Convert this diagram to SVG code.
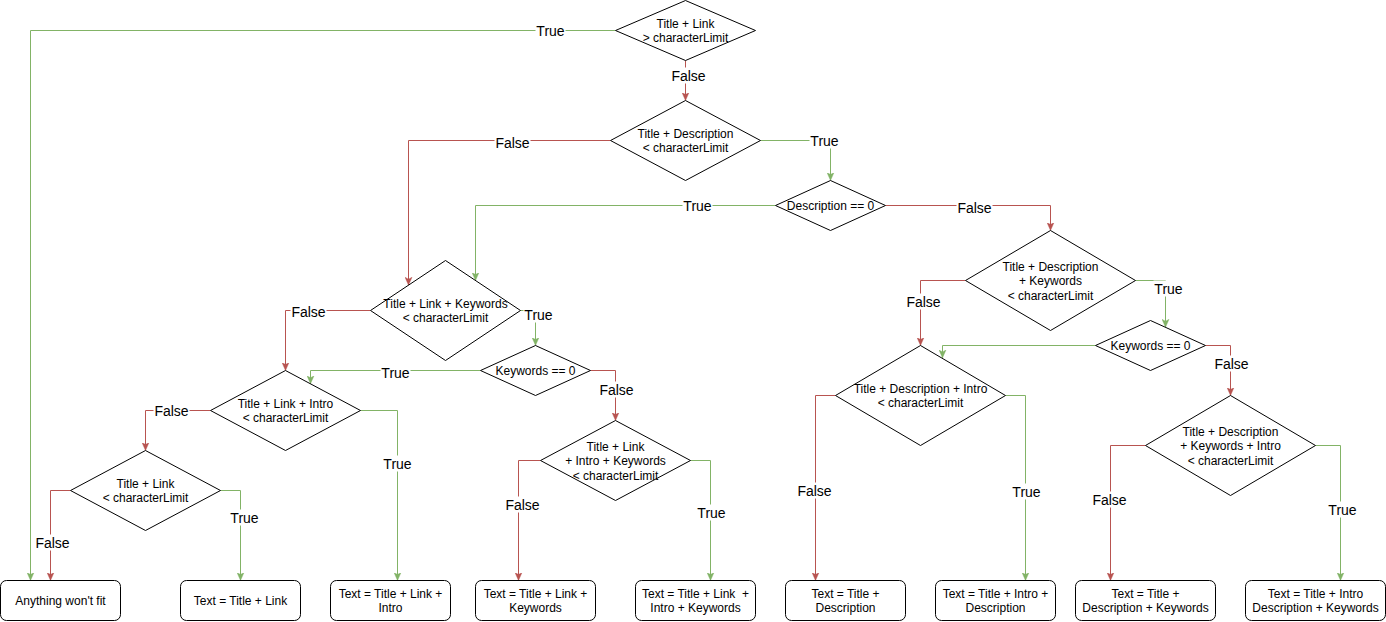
<svg xmlns="http://www.w3.org/2000/svg" width="1386" height="622" viewBox="0 0 1386 622">
  <style>
    .dia, .box { fill: #ffffff; stroke: #000000; stroke-width: 1; }
    .t { font-family: "Liberation Sans", Arial, Helvetica, sans-serif; font-size: 12px; fill: #000000; text-anchor: middle; }
    .edge { fill: none; stroke-width: 1; }
    .no { stroke: #b85450; marker-end: url(#arrowNo); }
    .yes { stroke: #82b366; marker-end: url(#arrowYes); }
    .lbl rect { fill: #ffffff; stroke: none; }
    .lbl text { font-family: "Liberation Sans", Arial, Helvetica, sans-serif; font-size: 14px; fill: #000000; text-anchor: middle; }
  </style>
  <defs>
    <marker id="arrowNo" viewBox="0 0 10 10" refX="10" refY="5" markerWidth="8" markerHeight="8" markerUnits="userSpaceOnUse" orient="auto">
      <path d="M0,0.6 L10,5 L0,9.4 L2.5,5 Z" fill="#b85450" stroke="#b85450" stroke-width="0.5"/>
    </marker>
    <marker id="arrowYes" viewBox="0 0 10 10" refX="10" refY="5" markerWidth="8" markerHeight="8" markerUnits="userSpaceOnUse" orient="auto">
      <path d="M0,0.6 L10,5 L0,9.4 L2.5,5 Z" fill="#82b366" stroke="#82b366" stroke-width="0.5"/>
    </marker>
  </defs>
  <rect x="0" y="0" width="1386" height="622" fill="#ffffff"/>
  <g transform="translate(0.5,0.5)">
    <!-- connectors -->
    <g id="connectors">
      <path class="edge yes" d="M615,30 H30 V580"/>
      <path class="edge no" d="M685,60 V100"/>
      <path class="edge no" d="M610,140 H408 V284.7"/>
      <path class="edge yes" d="M760,140 H830 V180"/>
      <path class="edge yes" d="M775,205 H475 V280"/>
      <path class="edge no" d="M885,205 H1050 V230"/>
      <path class="edge no" d="M370,310 H285 V370"/>
      <path class="edge yes" d="M520,310 H535 V345"/>
      <path class="edge yes" d="M480,370 H310 V383.3"/>
      <path class="edge no" d="M590,370 H615 V420"/>
      <path class="edge no" d="M210,410 H145 V450"/>
      <path class="edge yes" d="M360,410 H397 V580"/>
      <path class="edge no" d="M70,490 H50 V580"/>
      <path class="edge yes" d="M220,490 H240 V580"/>
      <path class="edge no" d="M540,460 H518 V580"/>
      <path class="edge yes" d="M690,460 H710 V580"/>
      <path class="edge no" d="M965,280 H920 V345"/>
      <path class="edge yes" d="M1135,280 H1165 V326.8"/>
      <path class="edge yes" d="M1095,345 H942 V357.4"/>
      <path class="edge no" d="M1205,345 H1230 V395"/>
      <path class="edge no" d="M835,395 H815 V580"/>
      <path class="edge yes" d="M1005,395 H1025 V580"/>
      <path class="edge no" d="M1145,445 H1110 V580"/>
      <path class="edge yes" d="M1315,445 H1340 V580"/>

      <!-- branch labels -->
      <g class="lbl"><rect x="535" y="22" width="30" height="16"/><text x="550" y="35">True</text></g>
      <g class="lbl"><rect x="670" y="67" width="36" height="16"/><text x="688" y="80">False</text></g>
      <g class="lbl"><rect x="494" y="134" width="36" height="16"/><text x="512" y="147">False</text></g>
      <g class="lbl"><rect x="809" y="132" width="30" height="16"/><text x="824" y="145">True</text></g>
      <g class="lbl"><rect x="682" y="197" width="30" height="16"/><text x="697" y="210">True</text></g>
      <g class="lbl"><rect x="956" y="199" width="36" height="16"/><text x="974" y="212">False</text></g>
      <g class="lbl"><rect x="290" y="303" width="36" height="16"/><text x="308" y="316">False</text></g>
      <g class="lbl"><rect x="523" y="306" width="30" height="16"/><text x="538" y="319">True</text></g>
      <g class="lbl"><rect x="380" y="364" width="30" height="16"/><text x="395" y="377">True</text></g>
      <g class="lbl"><rect x="598" y="381" width="36" height="16"/><text x="616" y="394">False</text></g>
      <g class="lbl"><rect x="153" y="402" width="36" height="16"/><text x="171" y="415">False</text></g>
      <g class="lbl"><rect x="382" y="455" width="30" height="16"/><text x="397" y="468">True</text></g>
      <g class="lbl"><rect x="34" y="534" width="36" height="16"/><text x="52" y="547">False</text></g>
      <g class="lbl"><rect x="229" y="509" width="30" height="16"/><text x="244" y="522">True</text></g>
      <g class="lbl"><rect x="504" y="496" width="36" height="16"/><text x="522" y="509">False</text></g>
      <g class="lbl"><rect x="696" y="504" width="30" height="16"/><text x="711" y="517">True</text></g>
      <g class="lbl"><rect x="905" y="293" width="36" height="16"/><text x="923" y="306">False</text></g>
      <g class="lbl"><rect x="1153" y="280" width="30" height="16"/><text x="1168" y="293">True</text></g>
      <g class="lbl"><rect x="1213" y="355" width="36" height="16"/><text x="1231" y="368">False</text></g>
      <g class="lbl"><rect x="796" y="482" width="36" height="16"/><text x="814" y="495">False</text></g>
      <g class="lbl"><rect x="1011" y="483" width="30" height="16"/><text x="1026" y="496">True</text></g>
      <g class="lbl"><rect x="1091" y="491" width="36" height="16"/><text x="1109" y="504">False</text></g>
      <g class="lbl"><rect x="1327" y="501" width="30" height="16"/><text x="1342" y="514">True</text></g>
    </g>

    <!-- decision nodes -->
    <g id="dec-title-link-over">
      <polygon class="dia" points="685,0 755,30 685,60 615,30"/>
      <text class="t" x="685" y="27">Title + Link</text>
      <text class="t" x="685" y="41">&gt; characterLimit</text>
    </g>
    <g id="dec-title-desc">
      <polygon class="dia" points="685,100 760,140 685,180 610,140"/>
      <text class="t" x="685" y="137">Title + Description</text>
      <text class="t" x="685" y="151">&lt; characterLimit</text>
    </g>
    <g id="dec-desc-empty">
      <polygon class="dia" points="830,180 885,205 830,230 775,205"/>
      <text class="t" x="830" y="209">Description == 0</text>
    </g>
    <g id="dec-title-link-kw">
      <polygon class="dia" points="445,260 520,310 445,360 370,310"/>
      <text class="t" x="445" y="307">Title + Link + Keywords</text>
      <text class="t" x="445" y="321">&lt; characterLimit</text>
    </g>
    <g id="dec-title-desc-kw">
      <polygon class="dia" points="1050,230 1135,280 1050,330 965,280"/>
      <text class="t" x="1050" y="270">Title + Description</text>
      <text class="t" x="1050" y="284">+ Keywords</text>
      <text class="t" x="1050" y="299">&lt; characterLimit</text>
    </g>
    <g id="dec-kw-empty-link">
      <polygon class="dia" points="535,345 590,370 535,395 480,370"/>
      <text class="t" x="535" y="374">Keywords == 0</text>
    </g>
    <g id="dec-title-link-intro">
      <polygon class="dia" points="285,370 360,410 285,450 210,410"/>
      <text class="t" x="285" y="407">Title + Link + Intro</text>
      <text class="t" x="285" y="421">&lt; characterLimit</text>
    </g>
    <g id="dec-title-link">
      <polygon class="dia" points="145,450 220,490 145,530 70,490"/>
      <text class="t" x="145" y="487">Title + Link</text>
      <text class="t" x="145" y="501">&lt; characterLimit</text>
    </g>
    <g id="dec-title-link-intro-kw">
      <polygon class="dia" points="615,420 690,460 615,500 540,460"/>
      <text class="t" x="615" y="450">Title + Link</text>
      <text class="t" x="615" y="464">+ Intro + Keywords</text>
      <text class="t" x="615" y="479">&lt; characterLimit</text>
    </g>
    <g id="dec-kw-empty-desc">
      <polygon class="dia" points="1150,320 1205,345 1150,370 1095,345"/>
      <text class="t" x="1150" y="349">Keywords == 0</text>
    </g>
    <g id="dec-title-desc-intro">
      <polygon class="dia" points="920,345 1005,395 920,445 835,395"/>
      <text class="t" x="920" y="392">Title + Description + Intro</text>
      <text class="t" x="920" y="406">&lt; characterLimit</text>
    </g>
    <g id="dec-title-desc-kw-intro">
      <polygon class="dia" points="1230,395 1315,445 1230,495 1145,445"/>
      <text class="t" x="1230" y="435">Title + Description</text>
      <text class="t" x="1230" y="449">+ Keywords + Intro</text>
      <text class="t" x="1230" y="464">&lt; characterLimit</text>
    </g>

    <!-- result nodes -->
    <g id="res-none">
      <rect class="box" x="0" y="580" width="120" height="40" rx="6" ry="6"/>
      <text class="t" x="60" y="604">Anything won't fit</text>
    </g>
    <g id="res-title-link">
      <rect class="box" x="180" y="580" width="120" height="40" rx="6" ry="6"/>
      <text class="t" x="240" y="604">Text = Title + Link</text>
    </g>
    <g id="res-title-link-intro">
      <rect class="box" x="330" y="580" width="120" height="40" rx="6" ry="6"/>
      <text class="t" x="390" y="597">Text = Title + Link +</text>
      <text class="t" x="390" y="611">Intro</text>
    </g>
    <g id="res-title-link-kw">
      <rect class="box" x="475" y="580" width="120" height="40" rx="6" ry="6"/>
      <text class="t" x="535" y="597">Text = Title + Link +</text>
      <text class="t" x="535" y="611">Keywords</text>
    </g>
    <g id="res-title-link-intro-kw">
      <rect class="box" x="635" y="580" width="120" height="40" rx="6" ry="6"/>
      <text class="t" x="695" y="597" xml:space="preserve">Text = Title + Link  +</text>
      <text class="t" x="695" y="611">Intro + Keywords</text>
    </g>
    <g id="res-title-desc">
      <rect class="box" x="785" y="580" width="120" height="40" rx="6" ry="6"/>
      <text class="t" x="845" y="597">Text = Title +</text>
      <text class="t" x="845" y="611">Description</text>
    </g>
    <g id="res-title-intro-desc">
      <rect class="box" x="935" y="580" width="120" height="40" rx="6" ry="6"/>
      <text class="t" x="995" y="597">Text = Title + Intro +</text>
      <text class="t" x="995" y="611">Description</text>
    </g>
    <g id="res-title-desc-kw">
      <rect class="box" x="1075" y="580" width="140" height="40" rx="6" ry="6"/>
      <text class="t" x="1145" y="597">Text = Title +</text>
      <text class="t" x="1145" y="611">Description + Keywords</text>
    </g>
    <g id="res-title-intro-desc-kw">
      <rect class="box" x="1245" y="580" width="140" height="40" rx="6" ry="6"/>
      <text class="t" x="1315" y="597">Text = Title + Intro</text>
      <text class="t" x="1315" y="611">Description + Keywords</text>
    </g>
  </g>
</svg>
